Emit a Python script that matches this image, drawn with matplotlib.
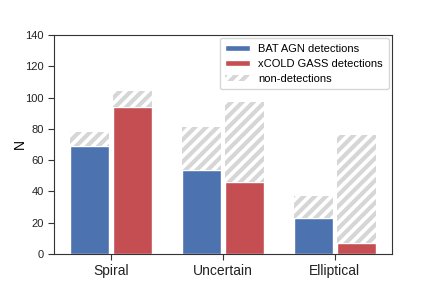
import matplotlib
matplotlib.use("Agg")
import matplotlib.pyplot as plt
import numpy as np

categories = ["Spiral", "Uncertain", "Elliptical"]
bat_det = [69, 54, 23]
bat_total = [78, 81, 37]
xcg_det = [94, 46, 7]
xcg_total = [104, 97, 76]

plt.rcParams['font.family'] = ['Liberation Sans', 'DejaVu Sans']
plt.rcParams['hatch.linewidth'] = 3.0
plt.rcParams['hatch.color'] = '#d6d6d6'

blue = '#4c72b0'
red = '#c44e52'
grey = '#d6d6d6'

fig = plt.figure(figsize=(4.36, 2.91), dpi=100)
ax = fig.add_axes([0.124, 0.127, 0.775, 0.753])

x = np.arange(len(categories))
w = 0.35
off = 0.19

bat_non = np.array(bat_total) - np.array(bat_det)
xcg_non = np.array(xcg_total) - np.array(xcg_det)

ax.bar(x - off, bat_det, w, color=blue, edgecolor='white', linewidth=1,
       label='BAT AGN detections')
ax.bar(x + off, xcg_det, w, color=red, edgecolor='white', linewidth=1,
       label='xCOLD GASS detections')
ax.bar(x - off, bat_non, w, bottom=bat_det, color='white', edgecolor=grey,
       hatch='///', linewidth=0, label='non-detections')
ax.bar(x + off, xcg_non, w, bottom=xcg_det, color='white', edgecolor=grey,
       hatch='///', linewidth=0)

ax.set_xlim(-0.51, 2.51)
ax.set_ylim(0, 140)
ax.set_xticks(x)
ax.set_xticklabels(categories, fontsize=10, color='#222222')
ax.set_yticks(np.arange(0, 141, 20))
ax.tick_params(axis='y', labelsize=8, labelcolor='#222222')
ax.tick_params(direction='out', length=4, color='#333333')
ax.set_ylabel('N', fontsize=10, labelpad=-1)
for s in ax.spines.values():
    s.set_color('#333333')

ax.legend(loc='upper right', fontsize=8, frameon=True, fancybox=True,
          edgecolor='#cccccc', handlelength=2.2, handleheight=0.5,
          borderpad=0.5, labelspacing=0.45, borderaxespad=0.3)

fig.savefig("out.png", dpi=100)
